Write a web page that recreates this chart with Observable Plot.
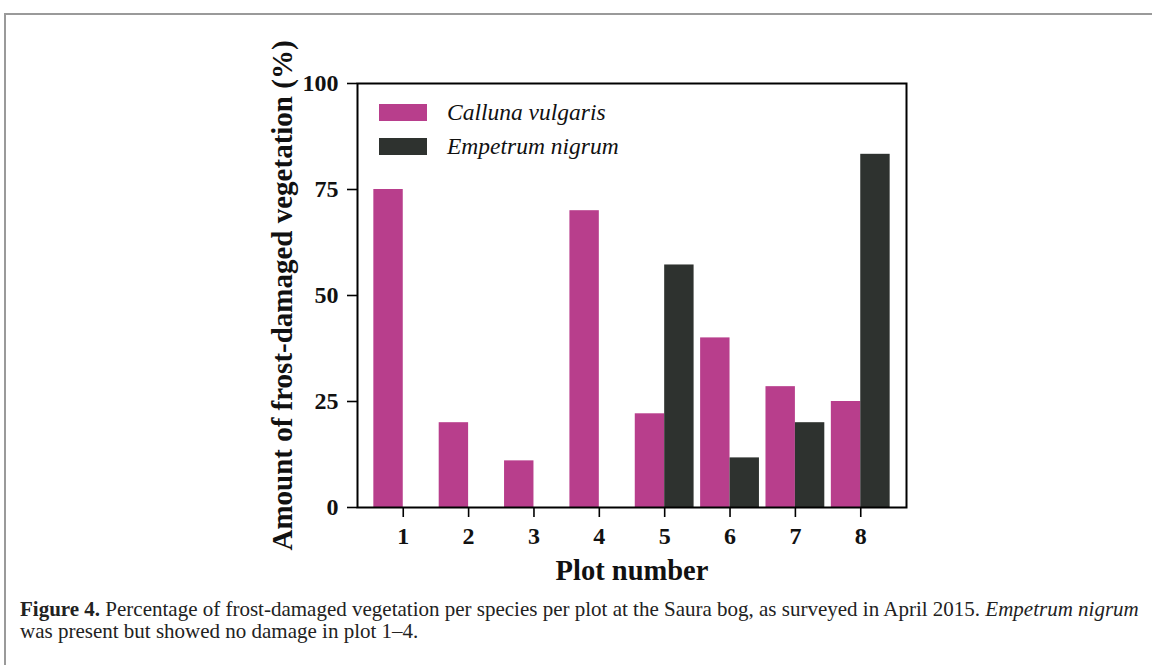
<!DOCTYPE html>
<html>
<head>
<meta charset="utf-8">
<script src="https://cdn.jsdelivr.net/npm/d3@7"></script>
<script src="https://cdn.jsdelivr.net/npm/@observablehq/plot@0.6"></script>
<style>
  html, body { margin: 0; padding: 0; background: #fff; width: 1152px; height: 665px; overflow: hidden; }
  #box { position: absolute; left: 4px; top: 13px; width: 1200px; height: 700px; border: 2px solid #9a9a9a; box-sizing: border-box; }
  #chart { position: absolute; left: 0; top: 0; }
  #legend { position: absolute; left: 379px; top: 104px; font-family: "Liberation Serif", "Times New Roman", serif; font-style: italic; font-size: 23.5px; color: #111; }
  .item { position: absolute; left: 0; white-space: nowrap; height: 17px; }
  .sw { position: absolute; left: 0; top: 0; width: 48px; height: 17px; }
  .lab { position: absolute; left: 68px; top: -5px; line-height: 26px; }
  #caption { position: absolute; left: 20px; top: 598px; font-family: "Liberation Serif", "Times New Roman", serif; font-size: 21px; line-height: 22px; color: #222; white-space: nowrap; }
</style>
</head>
<body>
<div id="box"></div>
<div id="chart"></div>
<div id="legend"></div>
<div id="caption"><b>Figure 4.</b> Percentage of frost-damaged vegetation per species per plot at the Saura bog, as surveyed in April 2015. <i>Empetrum nigrum</i><br>was present but showed no damage in plot 1–4.</div>
<script>
const plots = [1, 2, 3, 4, 5, 6, 7, 8];
const species = ["Calluna vulgaris", "Empetrum nigrum"];
const calluna = [75, 20, 11, 70, 22.1, 40, 28.5, 25];
const empetrum = [0, 0, 0, 0, 57.2, 11.7, 20, 83.3];
const yTicks = [0, 25, 50, 75, 100];
const colors = ["#b83e8c", "#2e322f"];
const barWidth = 0.45;

const rows = [];
plots.forEach((p, i) => {
  rows.push({plot: p, species: species[0], value: calluna[i], off: -barWidth});
  rows.push({plot: p, species: species[1], value: empetrum[i], off: 0});
});

const serif = "'Liberation Serif', 'Times New Roman', serif";

const chart = Plot.plot({
  width: 1152,
  height: 590,
  marginLeft: 357,
  marginRight: 246,
  marginTop: 83,
  marginBottom: 83,
  style: {fontFamily: serif, background: "transparent", overflow: "visible"},
  x: {type: "linear", domain: [0.3, 8.7]},
  y: {domain: [0, 100]},
  color: {domain: species, range: colors},
  marks: [
    Plot.rectY(rows.filter(d => d.value > 0), {
      x1: d => d.plot + d.off,
      x2: d => d.plot + d.off + barWidth,
      y1: 0,
      y2: "value",
      fill: "species"
    }),
    Plot.frame({stroke: "#000", strokeWidth: 2}),
    Plot.axisY({ticks: yTicks, tickSize: 10, tickPadding: 9, strokeWidth: 1.6, fontSize: 24, fontWeight: "bold", fill: "#111", label: null, tickFormat: d => String(d)}),
    Plot.axisX({ticks: plots, tickSize: 10, tickPadding: 9, strokeWidth: 1.6, fontSize: 24, fontWeight: "bold", fill: "#111", label: null, tickFormat: d => String(d)}),
    Plot.text(["Amount of frost-damaged vegetation (%)"], {
      frameAnchor: "left", rotate: -90, dx: -66, lineAnchor: "bottom",
      fontSize: 29, fontWeight: "bold", fill: "#111", textAnchor: "middle"
    }),
    Plot.text(["Plot number"], {
      frameAnchor: "bottom", dy: 72, lineAnchor: "bottom",
      fontSize: 28.5, fontWeight: "bold", fill: "#111", textAnchor: "middle"
    })
  ]
});
document.getElementById("chart").appendChild(chart);

const legend = document.getElementById("legend");
species.forEach((s, i) => {
  const item = document.createElement("div");
  item.className = "item";
  item.style.top = (i * 34) + "px";
  const sw = document.createElement("div");
  sw.className = "sw";
  sw.style.background = colors[i];
  const lab = document.createElement("span");
  lab.className = "lab";
  lab.textContent = s;
  item.appendChild(sw);
  item.appendChild(lab);
  legend.appendChild(item);
});
</script>
</body>
</html>
